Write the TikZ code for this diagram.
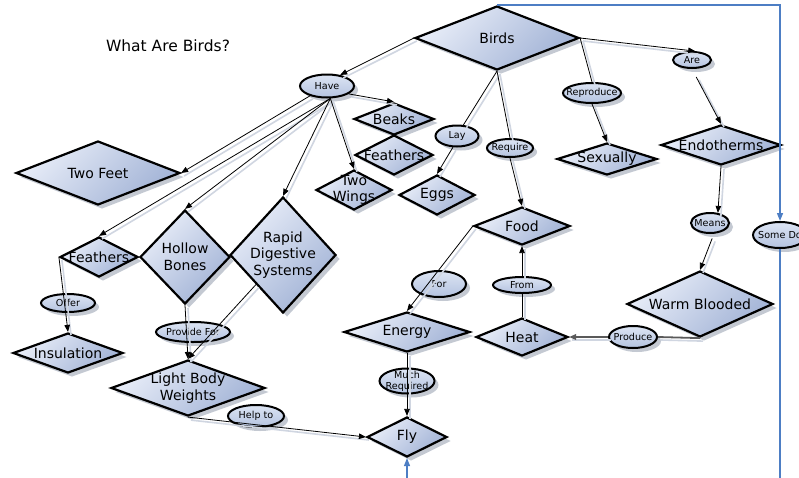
\documentclass[tikz,border=0pt]{standalone}
\usepackage{fontspec}
\setmainfont{DejaVu Sans}
\usetikzlibrary{shapes.geometric,arrows.meta,shadows}

\definecolor{fillhi}{HTML}{E8EDF8}
\definecolor{filllo}{HTML}{A2B3D6}
\definecolor{ellhi}{HTML}{DCE4F3}
\definecolor{elllo}{HTML}{B4C3E0}
\definecolor{shadowgray}{HTML}{BEC4CE}
\definecolor{edgeshadow}{HTML}{D0D6E1}
\definecolor{linkblue}{HTML}{4D7EC4}
\definecolor{heavygray}{HTML}{5A5A5A}

\begin{document}
\begin{tikzpicture}[x=1pt,y=-1pt,
  dtext/.style={font=\fontsize{14}{16.5}\selectfont, align=center, inner sep=0pt},
  etext/.style={font=\fontsize{9.6}{11}\selectfont, align=center, inner sep=0pt},
  dia/.style n args={3}{diamond, draw=black, line width=2.2pt, inner sep=0pt,
    minimum width=#1, minimum height=#2,
    top color=fillhi, bottom color=filllo, shading angle=45,
    drop shadow={shadow xshift=4pt, shadow yshift=-4pt, fill=shadowgray, opacity=0.9},
    label={[dtext]center:#3}},
  ell/.style n args={3}{ellipse, draw=black, line width=2pt, inner sep=0pt,
    minimum width=#1, minimum height=#2,
    top color=ellhi, bottom color=elllo,
    drop shadow={shadow xshift=4pt, shadow yshift=-4pt, fill=shadowgray, opacity=0.9},
    label={[etext]center:#3}},
  plain/.style={line width=0.8pt, draw=black,
    preaction={draw=edgeshadow, line width=1.6pt, -,
      transform canvas={shift={(3pt,-3pt)}}}},
  conn/.style={plain, -{Triangle[length=7pt,width=5.5pt]}},
  heavy/.style={line width=1.8pt, draw=heavygray,
    preaction={draw=edgeshadow, line width=1.6pt, -,
      transform canvas={shift={(3pt,-3pt)}}}},
  heavyarrow/.style={heavy, -{Triangle[length=7pt,width=5.5pt,fill=black]}},
  bluelink/.style={line width=1.3pt, draw=linkblue,
    -{Triangle[length=8pt,width=6pt]}}
]
\useasboundingbox (0,0) rectangle (799,477);
\fill[white] (0,0) rectangle (799,477);

% title
\node[font=\fontsize{15.5}{18}\selectfont] (title) at (168,46) {What Are Birds?};

% concept diamonds
\node[dia={164}{64}{Birds}] (birds) at (497,38) {};
\node[dia={164}{64}{Two Feet}] (twofeet) at (98,173) {};
\node[dia={78}{40}{Feathers}] (feathersL) at (99,257) {};
\node[dia={90}{94}{Hollow\\Bones}] (hollow) at (185,257) {};
\node[dia={106}{116}{Rapid\\Digestive\\Systems}] (rapid) at (283,255) {};
\node[dia={110}{40}{Insulation}] (insul) at (68,353) {};
\node[dia={154}{56}{Light Body\\Weights}] (lbw) at (188,388) {};
\node[dia={80}{32}{Beaks}] (beaks) at (394,119) {};
\node[dia={78}{40}{Feathers}] (feathersT) at (394,155) {};
\node[dia={76}{40}{Two\\Wings}] (twowings) at (354,190) {};
\node[dia={76}{40}{Eggs}] (eggs) at (437,195) {};
\node[dia={100}{32}{Sexually}] (sexually) at (607,159) {};
\node[dia={120}{40}{Endotherms}] (endo) at (721,145) {};
\node[dia={96}{38}{Food}] (food) at (522,226) {};
\node[dia={126}{40}{Energy}] (energy) at (407,332) {};
\node[dia={92}{38}{Heat}] (heat) at (522,337) {};
\node[dia={146}{66}{Warm Blooded}] (warm) at (700,304) {};
\node[dia={80}{40}{Fly}] (fly) at (407,437) {};

% linking phrases
\node[ell={54}{23}{Have}] (have) at (327,86) {};
\node[ell={43}{21}{Lay}] (lay) at (457,136) {};
\node[ell={46}{18}{Require}] (require) at (510,148) {};
\node[ell={58}{20}{Reproduce}] (reproduce) at (592,93) {};
\node[ell={38}{16}{Are}] (are) at (692,60) {};
\node[ell={38}{20}{Means}] (means) at (710,223) {};
\node[ell={54}{26}{Some Do}] (somedo) at (780,235) {};
\node[ell={54}{18}{Offer}] (offer) at (68,303) {};
\node[ell={74}{20}{Provide For}] (providefor) at (193,332) {};
\node[ell={56}{22}{Help to}] (helpto) at (256,416) {};
\node[ell={55}{25}{Much\\Required}] (muchreq) at (407,381) {};
\node[ell={54}{26}{For}] (for) at (439,284) {};
\node[ell={58}{16}{From}] (from) at (522,285) {};
\node[ell={48}{22}{Produce}] (produce) at (633,337) {};

% connectors
\draw[conn] (birds.west) -- (have.40);
\draw[conn] (have.-20) -- (beaks.north);
\draw[conn] (have.210) -- (twofeet.east);
\draw[conn] (have.-75) -- (feathersL.north);
\draw[conn] (have.-75) -- (hollow.north);
\draw[conn] (have.-75) -- (rapid.north);
\draw[conn] (have.-75) -- (twowings.north);
\draw[plain] (birds.south) -- (lay.60);
\draw[conn] (lay.-110) -- (eggs.north);
\draw[plain] (birds.south) -- (require.north);
\draw[conn] (require.south) -- (food.north);
\draw[plain] (birds.east) -- (reproduce.north);
\draw[conn] (reproduce.south) -- (sexually.north);
\draw[conn] (birds.east) -- (are.70);
\draw[conn, shorten <=9pt] (are.south) -- (endo.north);
\draw[conn] (endo.south) -- (means.52);
\draw[conn, shorten <=5pt] (means.-70) -- (warm.north);
\draw[heavy] (warm.south) -- (produce.east);
\draw[heavyarrow] (produce.west) -- (heat.east);
\draw[plain] (heat.north) -- (from.south);
\draw[conn] (from.north) -- (food.south);
\draw[conn] (food.west) -- (energy.north);
\draw[conn] (energy.south) -- (fly.north);
\draw[conn] (feathersL.west) -- (insul.north);
\draw[conn] (hollow.south) -- (lbw.north);
\draw[conn] (rapid.south west) -- (lbw.north);
\draw[conn] (lbw.south) -- (fly.west);

% cross link running round the outside
\coordinate (outR) at (780,500);
\coordinate (outL) at (407,500);
\draw[bluelink] (birds.north) -| (somedo.north);
\draw[bluelink] (somedo.south) -- (outR) -- (outL) -- (fly.south);
\end{tikzpicture}
\end{document}
